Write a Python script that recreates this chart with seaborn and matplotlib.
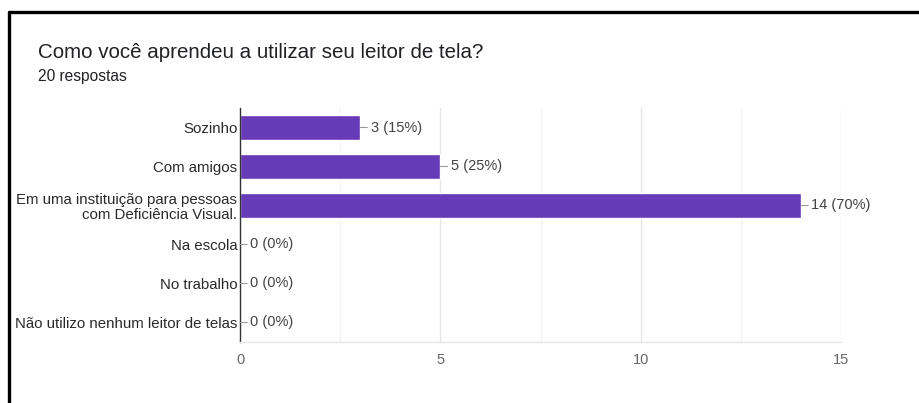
import matplotlib
matplotlib.use("Agg")
import matplotlib.pyplot as plt
from matplotlib.lines import Line2D
from matplotlib.ticker import MultipleLocator
import seaborn as sns
import pandas as pd

# Survey answers
categories = [
    "Sozinho",
    "Com amigos",
    "Em uma instituição para pessoas\ncom Deficiência Visual.",
    "Na escola",
    "No trabalho",
    "Não utilizo nenhum leitor de telas",
]
counts = [3, 5, 14, 0, 0, 0]
total_responses = 20
title = "Como você aprendeu a utilizar seu leitor de tela?"
subtitle = f"{total_responses} respostas"
x_ticks = [0, 5, 10, 15]

sns.set_theme(style="white")
plt.rcParams["font.family"] = ["Liberation Sans", "DejaVu Sans"]

df = pd.DataFrame({"categoria": categories, "respostas": counts})

fig = plt.figure(figsize=(9.19, 4.03), dpi=100)
ax = fig.add_axes([0.2612, 0.1514, 0.6540, 0.5806])

sns.barplot(data=df, x="respostas", y="categoria", color="#673ab7",
            saturation=1, width=0.62, ax=ax, orient="h")

ax.set_xlim(0, 15)
ax.set_ylim(len(categories) - 0.5, -0.5)
ax.set_xticks(x_ticks)
ax.xaxis.set_minor_locator(MultipleLocator(2.5))
ax.grid(axis="x", which="major", color="#e6e6e6", lw=1.0)
ax.grid(axis="x", which="minor", color="#f3f3f3", lw=1.0)
ax.set_axisbelow(True)

for side in ("top", "right"):
    ax.spines[side].set_visible(False)
ax.spines["bottom"].set_color("#e6e6e6")
ax.spines["bottom"].set_linewidth(1.0)
ax.spines["left"].set_color("#333333")
ax.spines["left"].set_linewidth(1.0)

ax.set_xlabel("")
ax.set_ylabel("")
ax.tick_params(axis="y", length=0, pad=2, labelsize=10.8, labelcolor="#2a2a2a")
ax.tick_params(axis="x", which="both", length=0, pad=8, labelsize=10.5,
               labelcolor="#666666")
for lbl in ax.get_yticklabels():
    lbl.set_linespacing(1.05)

# Value labels with a short leader line from each bar end
for i, v in enumerate(counts):
    pct = round(100 * v / total_responses)
    ax.annotate(f"{v} ({pct}%)", xy=(v, i), xytext=(7.5, 0),
                textcoords="offset points", ha="left", va="center",
                fontsize=10.5, color="#444444",
                arrowprops=dict(arrowstyle="-", color="#999999", lw=0.8,
                                shrinkA=0, shrinkB=0))

fig.text(38 / 919, 1 - 52 / 403, title, fontsize=14.8, color="#202124",
         va="center", ha="left")
fig.text(38 / 919, 1 - 77 / 403, subtitle, fontsize=11.2, color="#202124",
         va="center", ha="left")

# Frame lines along the top and left edges
fig.add_artist(Line2D([9 / 919, 1], [1 - 12 / 403, 1 - 12 / 403],
                      color="black", lw=2.4, transform=fig.transFigure))
fig.add_artist(Line2D([9 / 919, 9 / 919], [0, 1 - 12 / 403],
                      color="black", lw=2.4, transform=fig.transFigure))

fig.savefig("out.png", dpi=100, facecolor="white")
